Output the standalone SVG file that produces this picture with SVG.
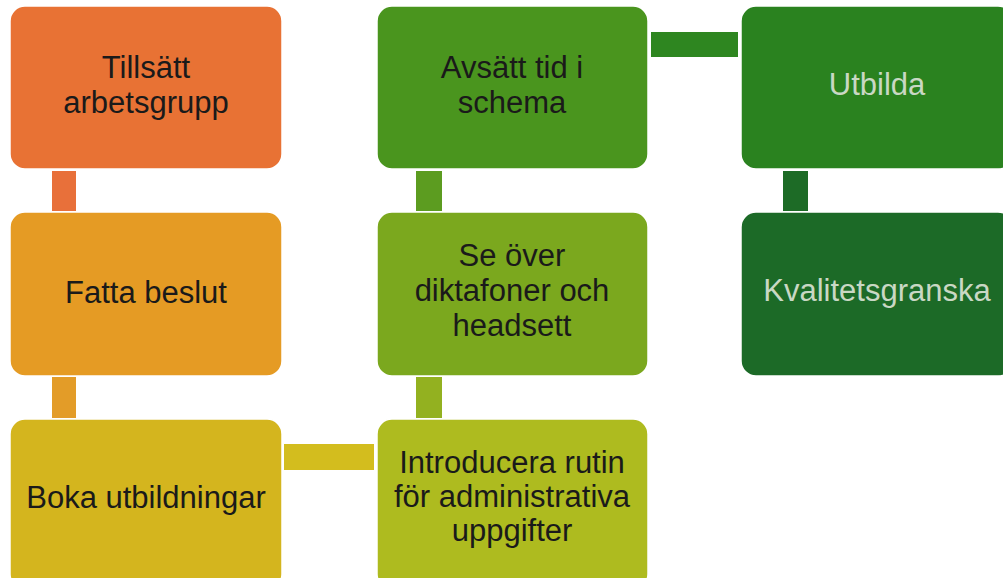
<svg xmlns="http://www.w3.org/2000/svg" width="1003" height="578" viewBox="0 0 1003 578">
<style>
.box{stroke:#ffffff;stroke-width:1.5}
.t{font-family:"Liberation Sans",Arial,sans-serif;font-size:31px;text-anchor:middle;fill:#1a1a1a}
.tl{fill:#c9d8c4}
</style>
<rect width="1003" height="578" fill="#ffffff"/>
<g id="connectors">
<rect x="52" y="171" width="24" height="40" fill="#E8703A"/>
<rect x="52" y="377" width="24" height="41" fill="#E39C28"/>
<rect x="284" y="444" width="90" height="26" fill="#D3BD1E"/>
<rect x="416" y="377" width="26" height="41" fill="#93B120"/>
<rect x="416" y="171" width="26" height="40" fill="#5C9C20"/>
<rect x="651" y="32" width="87" height="25" fill="#2E8620"/>
<rect x="783" y="171" width="25" height="40" fill="#1D6B26"/>
</g>
<g id="n1"><rect class="box" x="10" y="6" width="272" height="163" rx="15" fill="#E87234"/>
<text class="t" x="146" y="78">Tillsätt</text><text class="t" x="146" y="113">arbetsgrupp</text></g>
<g id="n2"><rect class="box" x="10" y="212" width="272" height="164" rx="15" fill="#E59B24"/>
<text class="t" x="146" y="303">Fatta beslut</text></g>
<g id="n3"><rect class="box" x="10" y="419" width="272" height="170" rx="15" fill="#D4B51E"/>
<text class="t" x="146" y="508">Boka utbildningar</text></g>
<g id="n4"><rect class="box" x="377" y="419" width="271" height="170" rx="15" fill="#AEBB1F"/>
<text class="t" x="512" y="473">Introducera rutin</text><text class="t" x="512" y="507">för administrativa</text><text class="t" x="512" y="541">uppgifter</text></g>
<g id="n5"><rect class="box" x="377" y="212" width="271" height="164" rx="15" fill="#7BA81E"/>
<text class="t" x="512" y="266">Se över</text><text class="t" x="512" y="301">diktafoner och</text><text class="t" x="512" y="336">headsett</text></g>
<g id="n6"><rect class="box" x="377" y="6" width="271" height="163" rx="15" fill="#4A951E"/>
<text class="t" x="512" y="78">Avsätt tid i</text><text class="t" x="512" y="113">schema</text></g>
<g id="n7"><rect class="box" x="741" y="6" width="272" height="163" rx="15" fill="#2A821F"/>
<text class="t tl" x="877" y="95">Utbilda</text></g>
<g id="n8"><rect class="box" x="741" y="212" width="272" height="164" rx="15" fill="#1C6A27"/>
<text class="t tl" x="877" y="301">Kvalitetsgranska</text></g>
</svg>
